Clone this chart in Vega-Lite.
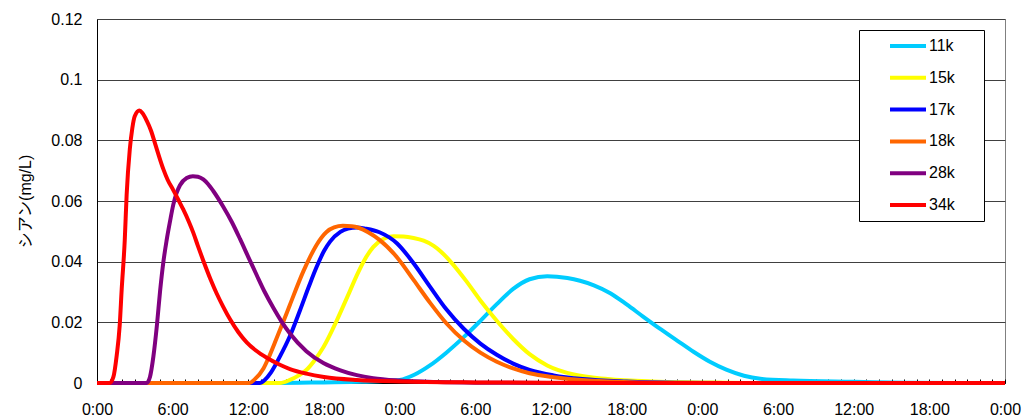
{
  "$schema": "https://vega.github.io/schema/vega-lite/v6.json",
  "autosize": "none",
  "width": 908,
  "height": 364,
  "padding": {"left": 97, "top": 19, "right": 19, "bottom": 37},
  "background": "white",
  "config": {
    "font": "Liberation Sans, Arial, Noto Sans CJK JP",
    "view": {"stroke": "#808080", "strokeWidth": 1},
    "axis": {"labelColor": "black", "titleColor": "black", "labelFontSize": 16, "titleFontSize": 16, "titleFontWeight": "normal"}
  },
  "data": {"values": [
    {"s":"11k","t":0,"v":0},{"s":"11k","t":14,"v":0},{"s":"11k","t":18,"v":0.0002},{"s":"11k","t":21,"v":0.0004},{"s":"11k","t":23,"v":0.0007},{"s":"11k","t":24,"v":0.001},{"s":"11k","t":25.2,"v":0.0028},{"s":"11k","t":26.4,"v":0.0058},{"s":"11k","t":27.7,"v":0.01},{"s":"11k","t":29.1,"v":0.0152},{"s":"11k","t":30.4,"v":0.0205},{"s":"11k","t":31.7,"v":0.026},{"s":"11k","t":33.0,"v":0.031},{"s":"11k","t":34.3,"v":0.0342},{"s":"11k","t":35.7,"v":0.0352},{"s":"11k","t":37.3,"v":0.0346},{"s":"11k","t":38.3,"v":0.0337},{"s":"11k","t":39.4,"v":0.0322},{"s":"11k","t":40.7,"v":0.0296},{"s":"11k","t":42.0,"v":0.0259},{"s":"11k","t":43.3,"v":0.0219},{"s":"11k","t":44.6,"v":0.018},{"s":"11k","t":46.0,"v":0.014},{"s":"11k","t":47.3,"v":0.0103},{"s":"11k","t":48.6,"v":0.007},{"s":"11k","t":49.9,"v":0.0044},{"s":"11k","t":51.3,"v":0.0024},{"s":"11k","t":52.6,"v":0.0014},{"s":"11k","t":55.2,"v":0.0008},{"s":"11k","t":60,"v":0.0004},{"s":"11k","t":64,"v":0.0001},{"s":"11k","t":68,"v":0},{"s":"11k","t":72,"v":0},
    {"s":"15k","t":0,"v":0},{"s":"15k","t":14.5,"v":0},{"s":"15k","t":15.3,"v":0.001},{"s":"15k","t":16.0,"v":0.0025},{"s":"15k","t":16.6,"v":0.0043},{"s":"15k","t":17.2,"v":0.0072},{"s":"15k","t":17.95,"v":0.0118},{"s":"15k","t":19.0,"v":0.0205},{"s":"15k","t":20.0,"v":0.0298},{"s":"15k","t":20.6,"v":0.0355},{"s":"15k","t":21.2,"v":0.0405},{"s":"15k","t":21.9,"v":0.0448},{"s":"15k","t":22.7,"v":0.0475},{"s":"15k","t":23.5,"v":0.0484},{"s":"15k","t":24.3,"v":0.0483},{"s":"15k","t":25.1,"v":0.0478},{"s":"15k","t":25.9,"v":0.0469},{"s":"15k","t":26.7,"v":0.0452},{"s":"15k","t":27.3,"v":0.0432},{"s":"15k","t":28.0,"v":0.0402},{"s":"15k","t":29.3,"v":0.0335},{"s":"15k","t":30.4,"v":0.0272},{"s":"15k","t":31.7,"v":0.0205},{"s":"15k","t":33.0,"v":0.0145},{"s":"15k","t":34.3,"v":0.0095},{"s":"15k","t":35.7,"v":0.0058},{"s":"15k","t":37.8,"v":0.0028},{"s":"15k","t":40.5,"v":0.0013},{"s":"15k","t":44,"v":0.0005},{"s":"15k","t":48,"v":0.0002},{"s":"15k","t":52,"v":0},{"s":"15k","t":72,"v":0},
    {"s":"17k","t":0,"v":0},{"s":"17k","t":12.9,"v":0},{"s":"17k","t":13.3,"v":0.001},{"s":"17k","t":13.8,"v":0.0035},{"s":"17k","t":14.5,"v":0.0087},{"s":"17k","t":15.3,"v":0.0155},{"s":"17k","t":16.1,"v":0.024},{"s":"17k","t":16.8,"v":0.0318},{"s":"17k","t":17.42,"v":0.0383},{"s":"17k","t":18.0,"v":0.0435},{"s":"17k","t":18.48,"v":0.0466},{"s":"17k","t":19.3,"v":0.0498},{"s":"17k","t":19.9,"v":0.0509},{"s":"17k","t":20.6,"v":0.0513},{"s":"17k","t":21.3,"v":0.0509},{"s":"17k","t":22.4,"v":0.0497},{"s":"17k","t":23.8,"v":0.046},{"s":"17k","t":25.1,"v":0.0395},{"s":"17k","t":26.4,"v":0.0318},{"s":"17k","t":27.7,"v":0.0243},{"s":"17k","t":29.1,"v":0.0178},{"s":"17k","t":30.4,"v":0.013},{"s":"17k","t":31.7,"v":0.0093},{"s":"17k","t":33.0,"v":0.0064},{"s":"17k","t":34.3,"v":0.0043},{"s":"17k","t":36.2,"v":0.0025},{"s":"17k","t":38.5,"v":0.0013},{"s":"17k","t":42,"v":0.0005},{"s":"17k","t":46,"v":0.0001},{"s":"17k","t":50,"v":0},{"s":"17k","t":72,"v":0},
    {"s":"18k","t":0,"v":0},{"s":"18k","t":12.1,"v":0},{"s":"18k","t":12.5,"v":0.0012},{"s":"18k","t":13.2,"v":0.0048},{"s":"18k","t":13.7,"v":0.0092},{"s":"18k","t":14.25,"v":0.0148},{"s":"18k","t":14.8,"v":0.0205},{"s":"18k","t":15.3,"v":0.0258},{"s":"18k","t":16.36,"v":0.0368},{"s":"18k","t":16.9,"v":0.0416},{"s":"18k","t":17.42,"v":0.0456},{"s":"18k","t":18.2,"v":0.0498},{"s":"18k","t":18.8,"v":0.0513},{"s":"18k","t":19.5,"v":0.0518},{"s":"18k","t":20.2,"v":0.0517},{"s":"18k","t":20.8,"v":0.0511},{"s":"18k","t":21.5,"v":0.0497},{"s":"18k","t":22.4,"v":0.0472},{"s":"18k","t":23.8,"v":0.0414},{"s":"18k","t":25.1,"v":0.034},{"s":"18k","t":26.4,"v":0.0265},{"s":"18k","t":27.7,"v":0.0197},{"s":"18k","t":29.1,"v":0.014},{"s":"18k","t":30.4,"v":0.01},{"s":"18k","t":31.7,"v":0.007},{"s":"18k","t":33.0,"v":0.0048},{"s":"18k","t":34.3,"v":0.0032},{"s":"18k","t":36.2,"v":0.0019},{"s":"18k","t":39,"v":0.0008},{"s":"18k","t":43,"v":0.0002},{"s":"18k","t":48,"v":0},{"s":"18k","t":72,"v":0},
    {"s":"28k","t":0,"v":0},{"s":"28k","t":3.93,"v":0},{"s":"28k","t":4.2,"v":0.002},{"s":"28k","t":4.47,"v":0.0087},{"s":"28k","t":4.75,"v":0.019},{"s":"28k","t":5.0,"v":0.0302},{"s":"28k","t":5.26,"v":0.0398},{"s":"28k","t":5.52,"v":0.047},{"s":"28k","t":5.8,"v":0.0535},{"s":"28k","t":6.05,"v":0.0588},{"s":"28k","t":6.3,"v":0.0625},{"s":"28k","t":6.58,"v":0.0652},{"s":"28k","t":7.11,"v":0.0676},{"s":"28k","t":7.6,"v":0.0682},{"s":"28k","t":8.0,"v":0.068},{"s":"28k","t":8.43,"v":0.0671},{"s":"28k","t":8.8,"v":0.0656},{"s":"28k","t":9.22,"v":0.0633},{"s":"28k","t":10.0,"v":0.0582},{"s":"28k","t":10.7,"v":0.053},{"s":"28k","t":11.34,"v":0.0475},{"s":"28k","t":12.0,"v":0.0415},{"s":"28k","t":12.66,"v":0.0356},{"s":"28k","t":13.3,"v":0.03},{"s":"28k","t":13.98,"v":0.0248},{"s":"28k","t":14.6,"v":0.0205},{"s":"28k","t":15.3,"v":0.0163},{"s":"28k","t":16.6,"v":0.0105},{"s":"28k","t":17.95,"v":0.0066},{"s":"28k","t":19.3,"v":0.0042},{"s":"28k","t":20.6,"v":0.0026},{"s":"28k","t":21.9,"v":0.0016},{"s":"28k","t":24,"v":0.0008},{"s":"28k","t":27,"v":0.0003},{"s":"28k","t":30,"v":0.0001},{"s":"28k","t":36,"v":0},{"s":"28k","t":72,"v":0},
    {"s":"34k","t":0,"v":0},{"s":"34k","t":1.0,"v":0},{"s":"34k","t":1.3,"v":0.002},{"s":"34k","t":1.56,"v":0.009},{"s":"34k","t":1.8,"v":0.019},{"s":"34k","t":1.96,"v":0.031},{"s":"34k","t":2.2,"v":0.047},{"s":"34k","t":2.35,"v":0.062},{"s":"34k","t":2.6,"v":0.077},{"s":"34k","t":2.8,"v":0.084},{"s":"34k","t":3.0,"v":0.088},{"s":"34k","t":3.36,"v":0.0898},{"s":"34k","t":3.6,"v":0.089},{"s":"34k","t":3.94,"v":0.0865},{"s":"34k","t":4.3,"v":0.083},{"s":"34k","t":4.6,"v":0.079},{"s":"34k","t":5.26,"v":0.0705},{"s":"34k","t":5.6,"v":0.067},{"s":"34k","t":6.05,"v":0.0636},{"s":"34k","t":6.5,"v":0.06},{"s":"34k","t":6.84,"v":0.0572},{"s":"34k","t":7.3,"v":0.053},{"s":"34k","t":7.64,"v":0.0495},{"s":"34k","t":8.0,"v":0.0452},{"s":"34k","t":8.43,"v":0.0403},{"s":"34k","t":9.0,"v":0.0342},{"s":"34k","t":9.49,"v":0.0295},{"s":"34k","t":10.0,"v":0.0252},{"s":"34k","t":10.55,"v":0.021},{"s":"34k","t":11.2,"v":0.0168},{"s":"34k","t":11.87,"v":0.0134},{"s":"34k","t":12.6,"v":0.0107},{"s":"34k","t":13.46,"v":0.0083},{"s":"34k","t":14.5,"v":0.006},{"s":"34k","t":15.3,"v":0.0046},{"s":"34k","t":16.6,"v":0.0031},{"s":"34k","t":18,"v":0.002},{"s":"34k","t":20.6,"v":0.001},{"s":"34k","t":24,"v":0.0005},{"s":"34k","t":30,"v":0.0002},{"s":"34k","t":36,"v":0.0001},{"s":"34k","t":48,"v":0},{"s":"34k","t":72,"v":0}
  ]},
  "mark": {"type": "line", "strokeWidth": 4, "interpolate": "monotone", "clip": false},
  "encoding": {
    "x": {
      "field": "t", "type": "quantitative",
      "scale": {"domain": [0, 72], "nice": false, "zero": false},
      "axis": {
        "title": null,
        "values": [0,1,2,3,4,5,6,7,8,9,10,11,12,13,14,15,16,17,18,19,20,21,22,23,24,25,26,27,28,29,30,31,32,33,34,35,36,37,38,39,40,41,42,43,44,45,46,47,48,49,50,51,52,53,54,55,56,57,58,59,60,61,62,63,64,65,66,67,68,69,70,71,72],
        "labelExpr": "datum.value % 6 == 0 ? ((datum.value % 24) + ':00') : ''",
        "labelOverlap": false,
        "labelFlush": false,
        "grid": false,
        "domainColor": "black",
        "tickColor": "black",
        "tickSize": -4,
        "labelPadding": 22
      }
    },
    "y": {
      "field": "v", "type": "quantitative",
      "scale": {"domain": [0, 0.12], "nice": false},
      "axis": {
        "title": "シアン(mg/L)",
        "values": [0, 0.02, 0.04, 0.06, 0.08, 0.1, 0.12],
        "labelExpr": "format(datum.value, '.2~f')",
        "ticks": false,
        "labelPadding": 15,
        "titlePadding": 17,
        "domainColor": "black",
        "grid": true,
        "gridColor": "#404040",
        "gridOpacity": 1
      }
    },
    "color": {
      "field": "s", "type": "nominal",
      "scale": {"domain": ["11k","15k","17k","18k","28k","34k"], "range": ["#00CCFF","#FFFF00","#0000FF","#FF6600","#800080","#FF0000"]},
      "legend": {
        "orient": "none", "legendX": 762, "legendY": 11,
        "title": "W",
        "titleOrient": "right",
        "titleFontSize": 16,
        "titlePadding": 5,
        "titleOpacity": 0,
        "padding": 8,
        "clipHeight": 16,
        "rowPadding": 15.8,
        "symbolType": "stroke",
        "symbolSize": 1296,
        "symbolStrokeWidth": 4,
        "symbolOffset": 21,
        "labelOffset": 1,
        "labelFontSize": 16,
        "labelColor": "black",
        "strokeColor": "black",
        "fillColor": "white"
      }
    }
  }
}
